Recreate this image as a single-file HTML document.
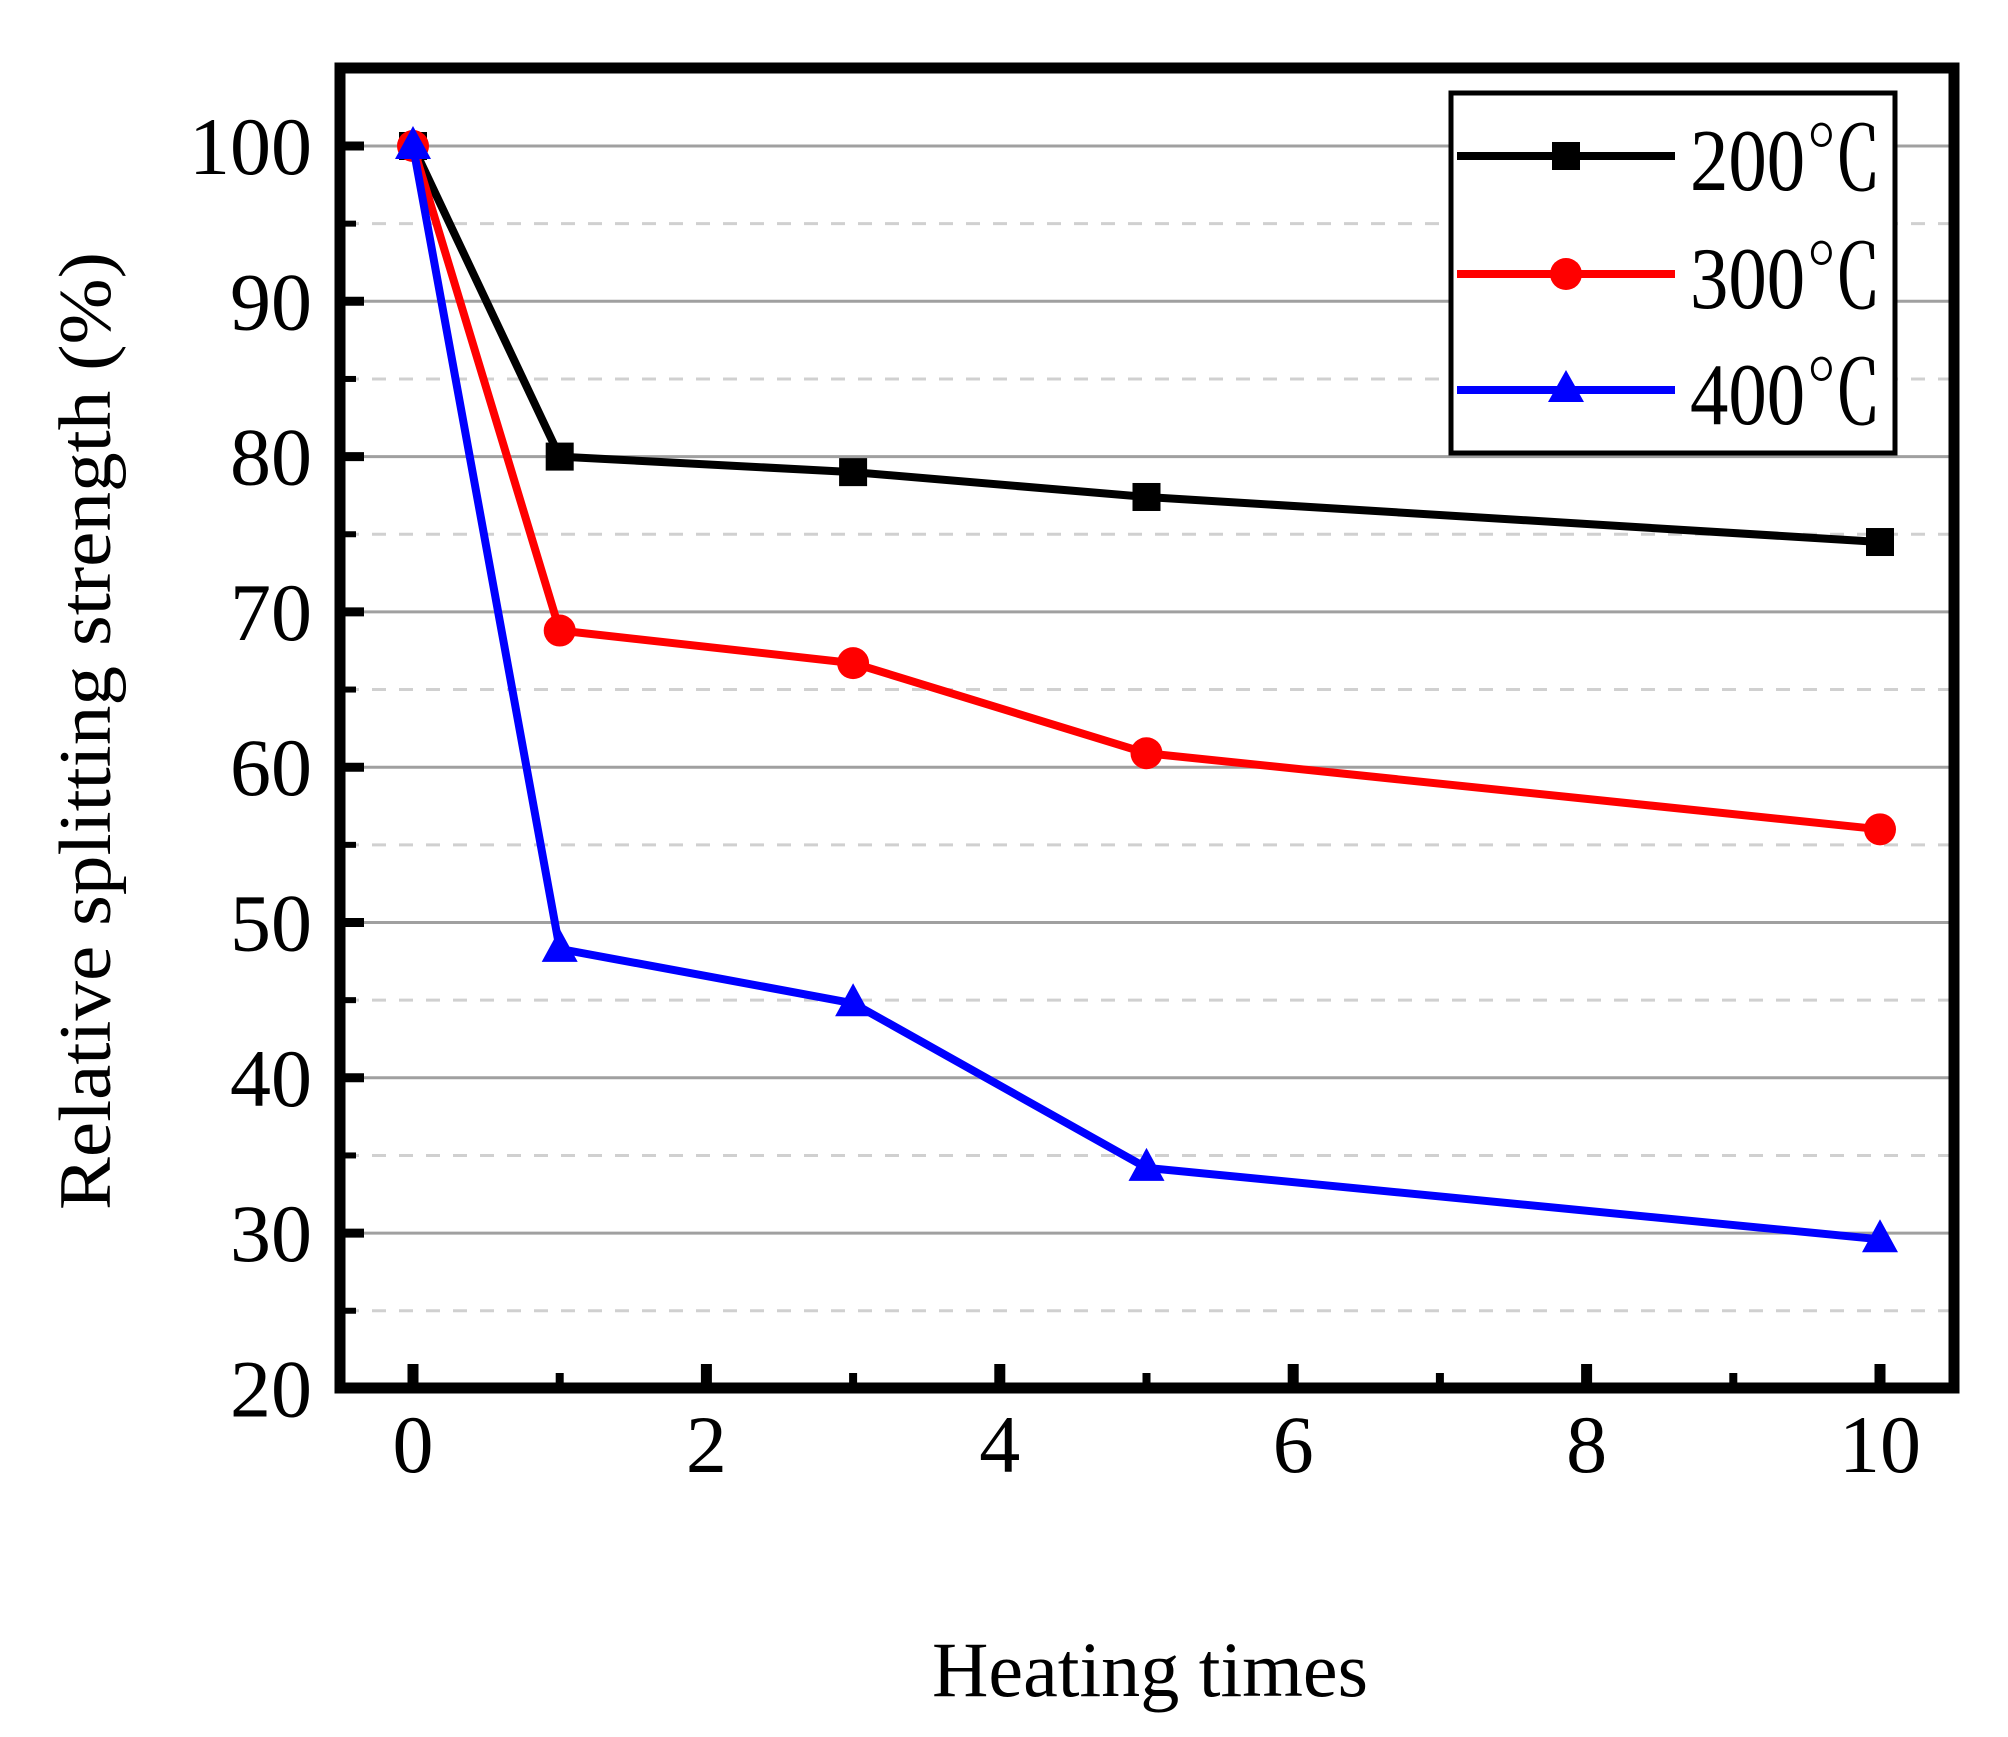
<!DOCTYPE html>
<html><head><meta charset="utf-8"><style>
html,body{margin:0;padding:0;background:#fff;}
svg{display:block;}
text{font-family:"Liberation Serif","Noto Serif CJK SC",serif;fill:#000;}
</style></head><body>
<svg id="chart" width="2008" height="1737" viewBox="0 0 2008 1737" xmlns="http://www.w3.org/2000/svg">
<rect x="0" y="0" width="2008" height="1737" fill="#fff"/>
<g id="grid"></g>
<g id="series"></g>
<rect x="340" y="68" width="1614" height="1320" fill="none" stroke="#000" stroke-width="11"/>
<g id="ticks"></g>
<text transform="translate(110,731) rotate(-90)" text-anchor="middle" font-size="74" textLength="958" lengthAdjust="spacingAndGlyphs">Relative splitting strength (%)</text>
<text x="1150" y="1696" text-anchor="middle" font-size="78" textLength="436" lengthAdjust="spacingAndGlyphs">Heating times</text>
<g>
<rect x="1451" y="93" width="444" height="360" fill="#fff" stroke="#000" stroke-width="5"/>
<g>
<line x1="1457" y1="156" x2="1675" y2="156" stroke="#000" stroke-width="8"/>
<rect x="1552" y="142" width="28" height="28" fill="#000"/>
<text x="1690" y="190" font-size="88" textLength="192" lengthAdjust="spacingAndGlyphs">200℃</text></g>
<g>
<line x1="1457" y1="274" x2="1675" y2="274" stroke="#f00" stroke-width="8"/>
<circle cx="1566" cy="274" r="16" fill="#f00"/>
<text x="1690" y="308" font-size="88" textLength="192" lengthAdjust="spacingAndGlyphs">300℃</text></g>
<g>
<line x1="1457" y1="390" x2="1675" y2="390" stroke="#00f" stroke-width="8"/>
<polygon points="1566,370 1584,402 1548,402" fill="#00f"/>
<text x="1690" y="424" font-size="88" textLength="192" lengthAdjust="spacingAndGlyphs">400℃</text></g>
</g>
</svg>
<script>
const xValues = [0, 1, 3, 5, 10];
const s200 = [100, 80.0, 79.0, 77.4, 74.5];
const s300 = [100, 68.8, 66.7, 60.9, 56.0];
const s400 = [100, 48.3, 44.8, 34.2, 29.6];
const yTickLabels = ["20","30","40","50","60","70","80","90","100"];
const xTickLabels = ["0","2","4","6","8","10"];

const NS = "http://www.w3.org/2000/svg";
const X0 = 413, XS = 146.7, Y100 = 146, YS = 15.53;
function xs(v){ return X0 + v * XS; }
function ys(v){ return Y100 + (100 - v) * YS; }
function mk(tag, attrs, parent){ const e = document.createElementNS(NS, tag); for (const k in attrs) e.setAttribute(k, attrs[k]); parent.appendChild(e); return e; }

const grid = document.getElementById('grid');
const ticks = document.getElementById('ticks');
const series = document.getElementById('series');

for (let v = 25; v <= 95; v += 10) {
  const l = mk('line', {x1: 345, x2: 1949, y1: ys(v), y2: ys(v), stroke: '#d0d0d0', 'stroke-width': 3, 'stroke-dasharray': '14 13'}, grid);
  
  
  const t = mk('line', {x1: 345, x2: 356, y1: ys(v), y2: ys(v), stroke: '#000', 'stroke-width': 6}, ticks);
  
  
}
yTickLabels.forEach(s => {
  const v = +s;
  if (v > 20) {
    const l = mk('line', {x1: 345, x2: 1949, y1: ys(v), y2: ys(v), stroke: '#a0a0a0', 'stroke-width': 3}, grid);
    
    
    const t = mk('line', {x1: 345, x2: 364, y1: ys(v), y2: ys(v), stroke: '#000', 'stroke-width': 9}, ticks);
    
    
  }
  const tx = mk('text', {x: 312, y: ys(v) + 28, 'text-anchor': 'end', 'font-size': 82}, ticks);
  tx.textContent = s;
  
  
});
for (let v = 1; v <= 9; v += 2) {
  const t = mk('line', {x1: xs(v), x2: xs(v), y1: 1383, y2: 1373, stroke: '#000', 'stroke-width': 8}, ticks);
  
  
}
xTickLabels.forEach(s => {
  const v = +s;
  const t = mk('line', {x1: xs(v), x2: xs(v), y1: 1383, y2: 1364, stroke: '#000', 'stroke-width': 11}, ticks);
  
  
  const tx = mk('text', {x: xs(v), y: 1472, 'text-anchor': 'middle', 'font-size': 82}, ticks);
  tx.textContent = s;
  
  
});

function drawSeries(vals, color, shape, name){
  const g = mk('g', {}, series);
  
  
  const pts = xValues.map((x, i) => xs(x) + ',' + ys(vals[i])).join(' ');
  const pl = mk('polyline', {points: pts, fill: 'none', stroke: color, 'stroke-width': 8, 'stroke-linejoin': 'round'}, g);
  
  
  xValues.forEach((x, i) => {
    const cx = xs(x), cy = ys(vals[i]);
    let m;
    if (shape === 'square') m = mk('rect', {x: cx - 14, y: cy - 14, width: 28, height: 28, fill: color}, g);
    else if (shape === 'circle') m = mk('circle', {cx: cx, cy: cy, r: 16, fill: color}, g);
    else m = mk('polygon', {points: `${cx},${cy-20} ${cx+18},${cy+13} ${cx-18},${cy+13}`, fill: color}, g);
    
    
  });
}
drawSeries(s200, '#000', 'square', 'series-200c');
drawSeries(s300, '#f00', 'circle', 'series-300c');
drawSeries(s400, '#00f', 'triangle', 'series-400c');
</script>
</body></html>
